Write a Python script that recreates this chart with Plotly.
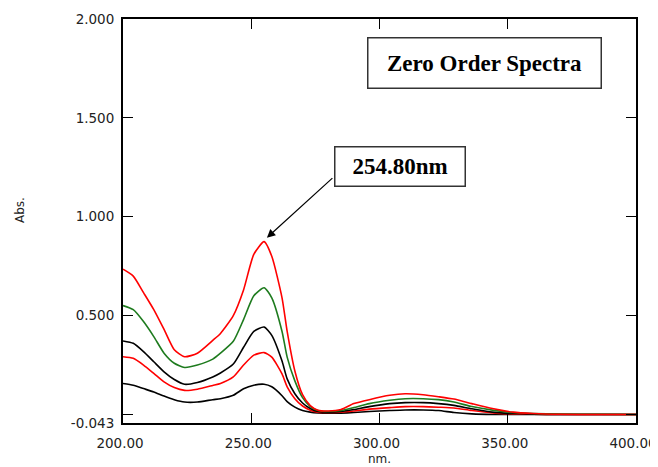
import plotly.graph_objects as go

wavelength = [200, 204, 208, 212, 216, 220, 224, 229, 235, 238, 243, 247, 251, 255, 258,
              262, 264, 267, 270, 273, 276, 280, 285, 290, 296, 304, 310, 317, 323, 329,
              336, 344, 352, 360, 370, 385, 400]

red_high = [0.735, 0.700, 0.616, 0.530, 0.430, 0.327, 0.292, 0.310, 0.375, 0.410, 0.500, 0.630,
            0.810, 0.874, 0.800, 0.590, 0.420, 0.220, 0.100, 0.045, 0.022, 0.018, 0.025, 0.055,
            0.075, 0.097, 0.105, 0.100, 0.090, 0.078, 0.055, 0.030, 0.012, 0.005, 0.001, 0.000, 0.000]
green = [0.551, 0.530, 0.470, 0.394, 0.310, 0.259, 0.238, 0.250, 0.280, 0.310, 0.370, 0.480,
         0.600, 0.641, 0.590, 0.420, 0.290, 0.170, 0.085, 0.040, 0.020, 0.015, 0.020, 0.035,
         0.055, 0.072, 0.080, 0.080, 0.075, 0.063, 0.040, 0.022, 0.010, 0.005, 0.002, 0.001, 0.000]
black_mid = [0.372, 0.360, 0.318, 0.267, 0.216, 0.177, 0.153, 0.162, 0.190, 0.210, 0.255, 0.340,
             0.420, 0.442, 0.400, 0.270, 0.180, 0.105, 0.058, 0.030, 0.015, 0.012, 0.015, 0.025,
             0.040, 0.055, 0.060, 0.060, 0.055, 0.046, 0.029, 0.012, 0.005, 0.002, 0.000, 0.000, 0.000]
red_low = [0.292, 0.284, 0.250, 0.208, 0.165, 0.136, 0.122, 0.128, 0.147, 0.157, 0.190, 0.250,
           0.300, 0.313, 0.290, 0.205, 0.140, 0.080, 0.043, 0.022, 0.012, 0.010, 0.012, 0.018,
           0.027, 0.035, 0.040, 0.040, 0.037, 0.033, 0.020, 0.008, 0.003, 0.001, 0.000, 0.000, 0.000]
black_low = [0.157, 0.148, 0.131, 0.114, 0.093, 0.075, 0.063, 0.063, 0.075, 0.080, 0.097, 0.130,
             0.148, 0.153, 0.140, 0.095, 0.065, 0.037, 0.020, 0.012, 0.008, 0.006, 0.007, 0.010,
             0.015, 0.020, 0.023, 0.023, 0.020, 0.010, 0.003, 0.000, 0.000, 0.000, 0.000, 0.000, 0.000]

series = [
    ("black_low", black_low, "#000000"),
    ("red_low", red_low, "#FF0000"),
    ("black_mid", black_mid, "#000000"),
    ("green", green, "#1E7B1E"),
    ("red_high", red_high, "#FF0000"),
]

x_ticks = [200, 250, 300, 350, 400]
x_ticktext = ["200.00", "250.00", "300.00", "350.00", "400.00"]
y_ticks = [-0.043, 0.0, 0.5, 1.0, 1.5, 2.0]
y_ticktext = ["-0.043", "", "0.500", "1.000", "1.500", "2.000"]

peak_nm = 256.1
peak_abs = 0.894

fig = go.Figure()
for name, vals, col in series:
    fig.add_trace(go.Scatter(x=wavelength, y=vals, mode="lines", name=name,
                             line=dict(color=col, width=1.6, shape="spline", smoothing=0.6)))

axis_font = dict(family="DejaVu Sans, Arial, sans-serif", size=13.5, color="#222222")

# the page adds an 8px body margin, so the figure is made 8px smaller and the margins shifted
fig.update_layout(
    width=650, height=459,
    margin=dict(l=115, r=22, t=11, b=44),
    plot_bgcolor="white", paper_bgcolor="white",
    showlegend=False,
    font=axis_font,
)
fig.update_xaxes(range=[200, 400], tickvals=x_ticks, ticktext=x_ticktext,
                 ticks="inside", ticklen=10, tickwidth=1, tickcolor="black",
                 showline=True, linecolor="black", linewidth=2, mirror="ticks",
                 showgrid=False, zeroline=False, tickfont=axis_font,
                 automargin=False, ticklabeloverflow="allow", ticklabelstandoff=7,
                 ticklabelshift=-3)
fig.update_yaxes(range=[-0.043, 2.0], tickvals=y_ticks, ticktext=y_ticktext,
                 ticks="inside", ticklen=10, tickwidth=1, tickcolor="black",
                 showline=True, linecolor="black", linewidth=2, mirror="ticks",
                 showgrid=False, zeroline=False, tickfont=axis_font,
                 automargin=False, ticklabeloverflow="allow", ticklabelstandoff=4)

fig.add_annotation(xref="paper", yref="paper", x=-0.2008, y=0.527,
                   xanchor="center", yanchor="middle", textangle=-90,
                   text="Abs.", showarrow=False,
                   font=dict(family="DejaVu Sans, Arial, sans-serif", size=12, color="#222222"))
fig.add_annotation(xref="paper", yref="paper", x=0.5, y=-0.0903,
                   xanchor="center", yanchor="middle",
                   text="nm.", showarrow=False,
                   font=dict(family="DejaVu Sans, Arial, sans-serif", size=12, color="#222222"))

serif_bold = dict(family="Liberation Serif, Times New Roman, serif", size=23, color="black")

fig.add_annotation(xref="paper", yref="paper", x=0.704, y=0.890,
                   xanchor="center", yanchor="middle",
                   text="<b>Zero Order Spectra</b>", showarrow=False, font=serif_bold,
                   width=232, height=49, bordercolor="#333333", borderwidth=1.5, borderpad=0,
                   bgcolor="white")
fig.add_annotation(xref="paper", yref="paper", x=0.539, y=0.636,
                   xanchor="center", yanchor="middle",
                   text="<b>254.80nm</b>", showarrow=False, font=serif_bold,
                   width=129, height=38, bordercolor="#333333", borderwidth=1.5, borderpad=0,
                   bgcolor="white")
fig.add_annotation(x=peak_nm, y=peak_abs, xref="x", yref="y", text="",
                   showarrow=True, ax=67, ay=-61, axref="pixel", ayref="pixel",
                   arrowhead=2, arrowsize=1.4, arrowwidth=1.2, arrowcolor="black")

fig.write_html("out.html")
